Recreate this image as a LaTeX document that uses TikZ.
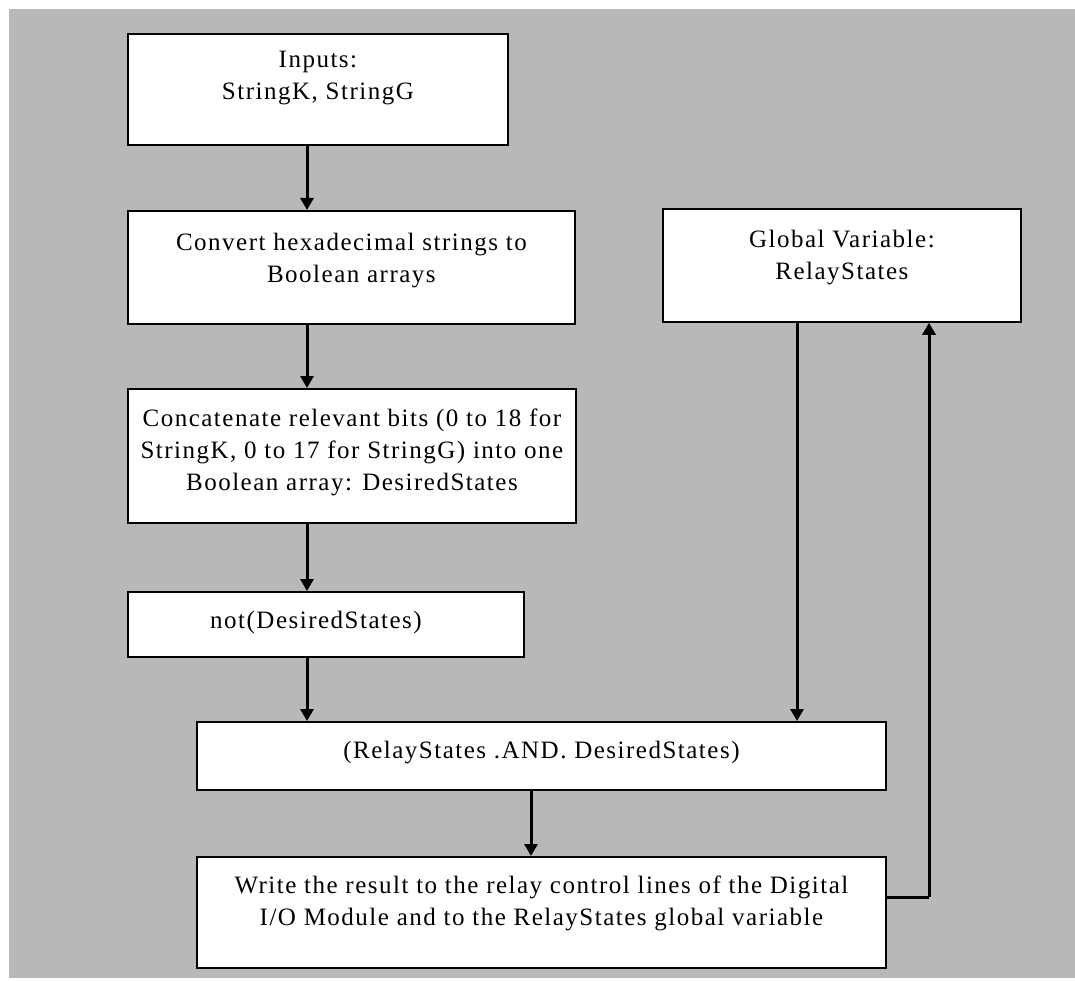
\documentclass[tikz,border=0pt]{standalone}
\usepackage{fontspec}
\setmainfont{Liberation Serif}
\newfontfamily\boxfont[LetterSpace=6]{Liberation Serif}
\usetikzlibrary{arrows.meta}
\definecolor{panel}{RGB}{184,184,184}
\begin{document}
\begin{tikzpicture}[x=1pt,y=-1pt,
  stepbox/.style={draw=black, fill=white, line width=1.8pt, anchor=north west,
                  inner sep=0pt, rectangle},
  lbl/.style={align=center, anchor=north, inner sep=0pt,
              font=\boxfont\fontsize{25}{32}\selectfont},
  flow/.style={line width=3pt, -{Triangle[length=12pt,width=13pt]}},
  wire/.style={line width=3pt}]
  % page and grey panel
  \useasboundingbox (0,0) rectangle (1075,981);
  \fill[white] (0,0) rectangle (1075,981);
  \fill[panel] (9,9) rectangle (1075,978);

  % boxes
  \node[stepbox, minimum width=380, minimum height=111] (in)  at (127,33)  {};
  \node[stepbox, minimum width=447, minimum height=113] (cv)  at (127,210) {};
  \node[stepbox, minimum width=358, minimum height=113] (gv)  at (662,208) {};
  \node[stepbox, minimum width=448, minimum height=134] (cc)  at (127,388) {};
  \node[stepbox, minimum width=396, minimum height=65]  (nt)  at (127,591) {};
  \node[stepbox, minimum width=689, minimum height=68]  (an)  at (196,721) {};
  \node[stepbox, minimum width=689, minimum height=111] (wr)  at (196,856) {};

  % texts
  \node[lbl] (inT) at (in.north |- 0,51)  {Inputs:\\StringK, StringG};
  \node[lbl] (cvT) at (cv.north |- 0,233) {Convert hexadecimal strings to\\Boolean arrays};
  \node[lbl] (gvT) at (gv.north |- 0,230) {Global Variable:\\RelayStates};
  \node[lbl] (ccT) at (cc.north |- 0,409) {Concatenate relevant bits (0 to 18 for\\StringK, 0 to 17 for StringG) into one\\Boolean array: DesiredStates};
  \node[lbl] (ntT) at (316,611)           {not(DesiredStates)};
  \node[lbl] (anT) at (an.north |- 0,741) {(RelayStates .AND. DesiredStates)};
  \node[lbl] (wrT) at (wr.north |- 0,876) {Write the result to the relay control lines of the Digital\\I/O Module and to the RelayStates global variable};

  % connector columns
  \coordinate (colA) at (307,0);
  \coordinate (colB) at (531,0);
  \coordinate (colC) at (797,0);
  \coordinate (colD) at (929,0);
  \coordinate (back) at (929,897);

  % connectors
  \draw[flow] (in.south -| colA) -- (cv.north -| colA);
  \draw[flow] (cv.south -| colA) -- (cc.north -| colA);
  \draw[flow] (cc.south -| colA) -- (nt.north -| colA);
  \draw[flow] (nt.south -| colA) -- (an.north -| colA);
  \draw[flow] (an.south -| colB) -- (wr.north -| colB);
  \draw[flow] (gv.south -| colC) -- (an.north -| colC);
  \draw[wire] (wr.east |- back) -- (back);
  \draw[flow] (back) -- (gv.south -| colD);
\end{tikzpicture}
\end{document}
